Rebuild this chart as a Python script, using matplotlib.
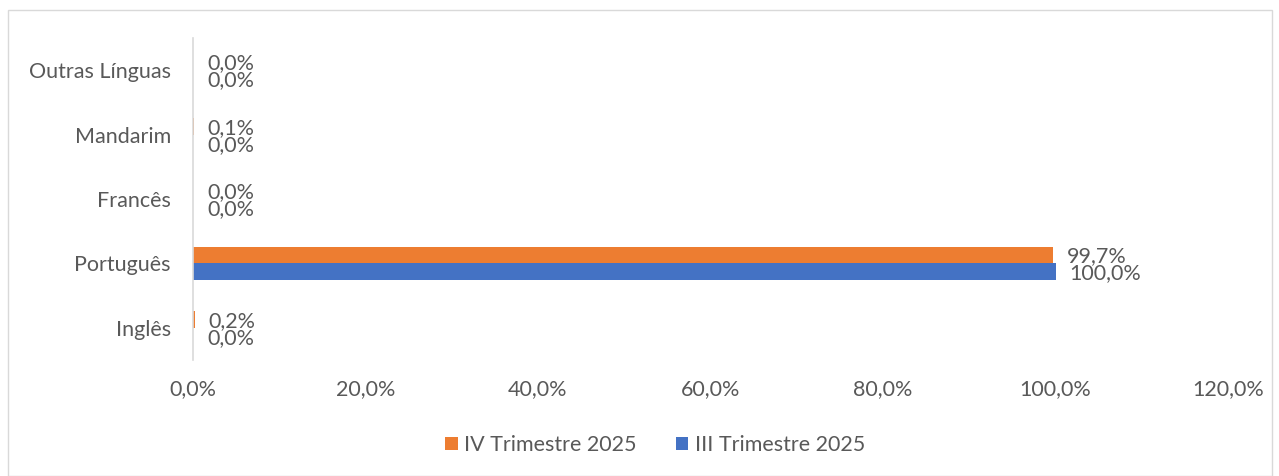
import matplotlib
matplotlib.use("Agg")
import matplotlib.pyplot as plt
from matplotlib.patches import Rectangle
from matplotlib.ticker import FuncFormatter
import numpy as np

# data
categories = ["Inglês", "Português", "Francês", "Mandarim", "Outras Línguas"]
iv_trim = [0.2, 99.7, 0.0, 0.1, 0.0]
iii_trim = [0.0, 100.0, 0.0, 0.0, 0.0]
series_names = ["IV Trimestre 2025", "III Trimestre 2025"]

ORANGE = "#ED7D31"
BLUE = "#4472C4"
TXT = "#595959"
FS = 15.5

plt.rcParams["font.family"] = ["Lato", "DejaVu Sans"]

fig = plt.figure(figsize=(12.79, 4.76), dpi=100)
# chart border
fig.patches.append(Rectangle((8 / 1279, 0), 1264 / 1279, 466 / 476,
                             transform=fig.transFigure, fill=False,
                             edgecolor="#d9d9d9", lw=1))

ax = fig.add_axes([193 / 1279, 1 - 360 / 476, (1228 - 193) / 1279, 322 / 476])

y = np.arange(len(categories))
h = 0.255
ax.barh(y + h / 2, iv_trim, height=h, color=ORANGE, label=series_names[0])
ax.barh(y - h / 2, iii_trim, height=h, color=BLUE, label=series_names[1])

# data labels sit just right of each bar end (they overlap a little, as in the original)
fmt = lambda v: f"{v:.1f}%".replace(".", ",")
for yi, a, b in zip(y, iv_trim, iii_trim):
    ax.annotate(fmt(a), (a, yi + h / 2 - 0.02), xytext=(10, 0), textcoords="offset points",
                va="center", ha="left", fontsize=FS, color=TXT)
    ax.annotate(fmt(b), (b, yi - h / 2 - 0.03), xytext=(10, 0), textcoords="offset points",
                va="center", ha="left", fontsize=FS, color=TXT)

ax.set_xlim(0, 120)
ax.set_ylim(-0.5, len(categories) - 0.5)
ax.set_xticks(np.arange(0, 121, 20))
ax.xaxis.set_major_formatter(FuncFormatter(lambda v, p: fmt(v)))
ax.set_yticks(y)
ax.set_yticklabels(categories)
ax.tick_params(axis="both", length=0, labelsize=FS, labelcolor=TXT)
ax.tick_params(axis="x", pad=14)
ax.tick_params(axis="y", pad=16)
for s in ["top", "right", "bottom"]:
    ax.spines[s].set_visible(False)
ax.spines["left"].set_color("#d9d9d9")
ax.spines["left"].set_linewidth(1.2)

ax.legend(loc="center", bbox_to_anchor=(655 / 1279, 1 - 445 / 476),
          bbox_transform=fig.transFigure, ncol=2, frameon=False,
          fontsize=FS, labelcolor=TXT, handlelength=0.6, handleheight=0.6,
          handletextpad=0.3, columnspacing=1.8)

fig.savefig("out.png", dpi=100)
